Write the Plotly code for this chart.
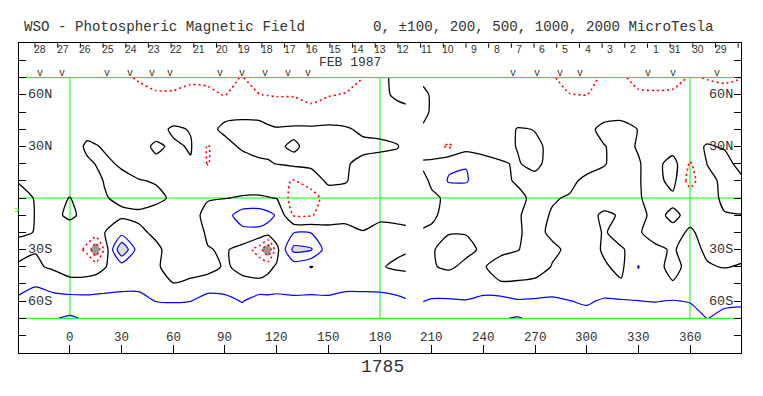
import plotly.graph_objects as go

# ---------------- data ----------------
lat_rows = [70, 60, 50, 40, 30, 20, 10, 0, -10, -20, -30, -40, -50, -60, -70]

lon_west = [-30, -20, -10, 0, 10, 15, 20, 30, 40, 50, 60, 70, 80, 90, 100, 110, 115, 120,
            130, 140, 150, 160, 170, 180, 190, 195]
lon_east = [205, 210, 220, 230, 240, 250, 260, 270, 280, 290, 300, 310, 320, 330, 340, 350,
            360, 370, 380, 390]

field_west = [
    [-60, -60, -65, -70, -75, -78, -80, -90, -105, -130, -130, -110, -105, -110, -98, -120, -130, -140, -140, -130, -130, -120, -102, -20, 20, 25],
    [-50, -50, -55, -55, -60, -62, -65, -70, -85, -90, -90, -85, -95, -101, -90, -99, -102, -105, -105, -110, -103, -97, -80, -15, 10, 12],
    [-40, -40, -45, -45, -45, -48, -50, -55, -60, -60, -60, -60, -65, -20, -20, -20, -40, -60, -60, -90, -75, -55, -50, -40, -20, -10],
    [-40, -40, -45, -45, -30, -35, -40, -45, -40, -35, 15, -5, -20, 15, 25, 20, 15, 8, 15, 20, 25, 10, -15, -20, -20, -15],
    [-40, -40, -45, -50, 15, 5, -8, -40, -30, 15, -15, 8, -108, -23, 10, 20, 15, 10, -10, 20, 25, 25, 20, 15, 3, -15],
    [-30, -30, -35, -40, -12, 2, 15, -10, -35, -20, -40, -8, -105, -40, -30, -10, -5, 2, 20, 25, 25, 8, -20, -30, -20, -15],
    [-5, -20, -30, -40, -30, -15, 3, 20, 4, -5, -10, -20, -40, -40, -30, -25, -40, -80, -105, -60, 20, 3, -20, -20, -20, -20],
    [30, -5, -20, 2, -40, -30, -5, 15, 20, 15, -10, -20, -5, -2, 5, 5, 3, -2, -150, -140, -60, -20, -30, -20, -20, -20],
    [40, -3, -20, 15, -25, -5, -20, -15, -10, -25, -40, -25, 20, 60, 150, 160, 130, 90, -110, -110, -40, -15, -25, -10, -15, -15],
    [10, -2, -20, -40, -60, -30, -2, 60, 10, -10, -60, -60, 15, 40, 70, 70, 60, 60, 95, 95, 30, 15, 3, 15, 15, 10],
    [-25, -5, -20, -40, -120, -300, -80, 300, 40, 10, -20, -40, -5, 10, -30, -150, -300, -30, 230, 210, 40, 20, 20, 15, 10, 5],
    [10, 15, -15, -30, -40, -30, -5, 40, 40, 10, -30, -40, -30, 10, -20, -40, -20, 10, 40, -3, 30, 30, 30, 5, -10, -15],
    [60, 90, 70, 20, 30, 35, 40, 60, 60, 40, 2, 20, 40, 50, 20, 20, 30, 60, 60, 50, 60, 60, 60, 55, 40, 40],
    [120, 150, 130, 150, 140, 145, 150, 150, 150, 98, 95, 99, 150, 130, 95, 150, 140, 130, 120, 130, 120, 150, 150, 150, 130, 110],
    [150, 170, 195, 210, 190, 180, 170, 170, 170, 150, 150, 150, 170, 160, 150, 170, 165, 160, 160, 160, 160, 170, 170, 170, 160, 150],
]

field_east = [
    [-20, -40, -50, -60, -60, -60, -70, -80, -95, -120, -110, -95, -95, -110, -130, -120, -95, -102, -105, -101],
    [20, -10, -40, -50, -50, -55, -60, -70, -85, -98, -101, -80, -85, -95, -90, -90, -85, -85, -90, -85],
    [20, -10, -30, -35, -35, -35, -30, -30, -40, -55, -45, -30, -25, -40, -55, -55, -50, -50, -50, -50],
    [-10, -20, -25, -25, -25, -25, 3, -1, -20, -20, -20, 20, 25, -2, -30, -40, -40, -30, -30, -30],
    [-40, -60, -115, -40, -30, -20, 3, 5, -6, -25, -20, -3, 20, -5, -35, -45, -20, 5, -5, -20],
    [10, 20, 80, 95, 30, 5, -5, 20, -30, -30, -25, -5, 30, 5, -30, 40, -110, 2, 20, -20],
    [-15, 10, 110, 110, 30, 10, -5, -25, -30, -15, 15, 25, 15, 5, -30, 30, -140, -20, 15, 10],
    [-25, -10, 10, 20, 20, 20, 10, -10, -5, 5, 25, 30, 30, 5, -20, -20, -40, -20, 10, 15],
    [-30, -10, 20, 40, 40, 30, 5, -20, 5, 30, 20, -10, 5, 20, -20, 15, -20, -20, -3, -1],
    [10, 10, 3, 3, 15, 30, 5, -15, 10, 40, 30, -5, 20, 5, -20, -20, 8, -20, -25, -25],
    [10, 5, -20, -15, 10, 15, 3, -30, -10, 10, 40, -10, -5, 20, 10, -5, 20, -10, -20, -20],
    [15, 5, -10, 15, 5, -25, -40, -30, 3, 30, 40, 10, -20, 104, 20, -20, 20, 5, -3, 5],
    [40, 40, 40, 40, 40, 5, 10, 15, 40, 50, 50, 50, 10, 60, 50, 5, 50, 40, 40, 40],
    [98, 110, 110, 105, 130, 140, 110, 115, 120, 102, 90, 110, 110, 101, 97, 105, 95, 80, 85, 90],
    [150, 150, 150, 150, 160, 190, 210, 170, 160, 150, 130, 150, 150, 150, 150, 150, 140, 98, 120, 120],
]

day_labels = ["28", "27", "26", "25", "24", "23", "22", "21", "20", "19", "18", "17", "16", "15",
              "14", "13", "12", "11", "10", "9", "8", "7", "6", "5", "4", "3", "2", "1",
              "31", "30", "29"]
obs_lon = [-17.4, -4.8, 21.3, 34.8, 47.4, 58.1, 87.1, 99.7, 113.2, 126.8, 138.4,
           257.4, 271.0, 284.5, 296.1, 335.8, 350.0, 375.9]
xtick_vals = [0, 30, 60, 90, 120, 150, 180, 210, 240, 270, 300, 330, 360]
lat_labels = {60: "60N", 30: "30N", -30: "30S", -60: "60S"}
rotation = "1785"
month_label = "FEB 1987"
title_text = "WSO - Photospheric Magnetic Field        0, \u00b1100, 200, 500, 1000, 2000 MicroTesla"

# ---------------- layout helpers ----------------
W, H = 763, 396
def fx(px):
    return px / W
def fy(py):
    return 1 - py / H

X0, X1 = 19, 741
Y0, Y1 = 43.3, 352.7
LON_RANGE = [-29.6, 389.6]

fig = go.Figure()

def add_field(lons, field):
    z = field[::-1]
    y = lat_rows[::-1]
    common = dict(x=lons, y=y, z=z, showscale=False, hoverinfo="skip")
    # constraint fills shade the region that violates the constraint
    fig.add_trace(go.Contour(**common,
                             contours=dict(type="constraint", operation="<", value=200),
                             fillcolor="#dedede", line=dict(width=0)))
    fig.add_trace(go.Contour(**common,
                             contours=dict(type="constraint", operation=">", value=-200),
                             fillcolor="#9a9a9a", line=dict(width=0)))
    fig.add_trace(go.Contour(**common,
                             contours=dict(coloring="none", start=100, end=200, size=100),
                             line=dict(color="#0000ff", width=1.2, smoothing=0.6)))
    fig.add_trace(go.Contour(**common,
                             contours=dict(coloring="none", start=-200, end=-100, size=100),
                             line=dict(color="#ff0000", width=1.6, dash="2px,3px", smoothing=0.6)))
    fig.add_trace(go.Contour(**common,
                             contours=dict(coloring="none", start=0, end=0, size=1),
                             line=dict(color="black", width=1.3, smoothing=0.6)))

add_field(lon_west, field_west)
add_field(lon_east, field_east)

shapes = []
green = "#00ff00"
for la in [70, 0, -70]:
    shapes.append(dict(type="line", xref="x", yref="y", x0=LON_RANGE[0], x1=LON_RANGE[1],
                       y0=la, y1=la, line=dict(color=green, width=1), layer="below"))
for lo in [0, 180, 360]:
    shapes.append(dict(type="line", xref="x", yref="y", x0=lo, x1=lo, y0=-70, y1=70,
                       line=dict(color=green, width=1), layer="below"))

# day boundaries along the top of the frame
day_start_lon = -20.3
day_step = 13.17
for k in range(len(day_labels) + 1):
    lo = day_start_lon + k * day_step
    shapes.append(dict(type="line", xref="x", yref="paper", x0=lo, x1=lo,
                       y0=fy(Y0), y1=fy(Y0 + 4.5), line=dict(color="black", width=1)))

ann = []
mono = "Liberation Mono"
txt = "#333"
ann.append(dict(text=title_text, x=fx(22), y=fy(27.5), xref="paper", yref="paper",
                xanchor="left", yanchor="middle", showarrow=False,
                font=dict(family=mono, size=14.2, color=txt)))
for k, d in enumerate(day_labels):
    lo = day_start_lon + k * day_step + 7.6
    ann.append(dict(text=d, x=lo, y=fy(49), xref="x", yref="paper", xanchor="right",
                    yanchor="middle", showarrow=False,
                    font=dict(family="Liberation Sans", size=10.5, color=txt)))
ann.append(dict(text=month_label, x=fx(350), y=fy(63), xref="paper", yref="paper",
                xanchor="center", yanchor="middle", showarrow=False,
                font=dict(family=mono, size=13, color=txt)))
for lo in obs_lon:
    ann.append(dict(text="v", x=lo, y=fy(73.5), xref="x", yref="paper", xanchor="center",
                    yanchor="middle", showarrow=False,
                    font=dict(family=mono, size=10, color=txt)))
for v in xtick_vals:
    ann.append(dict(text=str(v), x=v, y=fy(338), xref="x", yref="paper", xanchor="center",
                    yanchor="middle", showarrow=False,
                    font=dict(family=mono, size=12.5, color=txt)))
for la, t in lat_labels.items():
    ann.append(dict(text=t, x=fx(26), y=la, xref="paper", yref="y", xanchor="left",
                    yanchor="middle", showarrow=False,
                    font=dict(family=mono, size=13.5, color=txt)))
    ann.append(dict(text=t, x=fx(735), y=la, xref="paper", yref="y", xanchor="right",
                    yanchor="middle", showarrow=False,
                    font=dict(family=mono, size=13.5, color=txt)))
ann.append(dict(text=rotation, x=fx(382), y=fy(367), xref="paper", yref="paper",
                xanchor="center", yanchor="middle", showarrow=False,
                font=dict(family=mono, size=18, color=txt)))
ann.append(dict(text=">", x=fx(16.5), y=fy(210.5), xref="paper", yref="paper",
                xanchor="center", yanchor="middle", showarrow=False,
                font=dict(family=mono, size=9, color=green)))

fig.update_layout(
    width=W, height=H, autosize=False,
    margin=dict(l=0, r=0, t=0, b=0),
    paper_bgcolor="white", plot_bgcolor="white", showlegend=False,
    xaxis=dict(domain=[fx(X0), fx(X1)], range=LON_RANGE, showgrid=False, zeroline=False,
               showline=True, linecolor="black", linewidth=1, mirror=True,
               ticks="inside", tickvals=xtick_vals, ticklen=8, tickcolor="black",
               tickwidth=1, showticklabels=False, fixedrange=True),
    yaxis=dict(domain=[fy(Y1), fy(Y0)], range=[-90, 90], showgrid=False, zeroline=False,
               showline=True, linecolor="black", linewidth=1, mirror="ticks",
               ticks="inside", tickvals=list(range(-90, 91, 10)), ticklen=7,
               tickcolor="black", tickwidth=1, showticklabels=False, fixedrange=True),
    shapes=shapes, annotations=ann,
)

fig.write_html("out.html", config={"displayModeBar": False},
               post_script="document.body.style.margin='0px';document.body.style.padding='0px';")
